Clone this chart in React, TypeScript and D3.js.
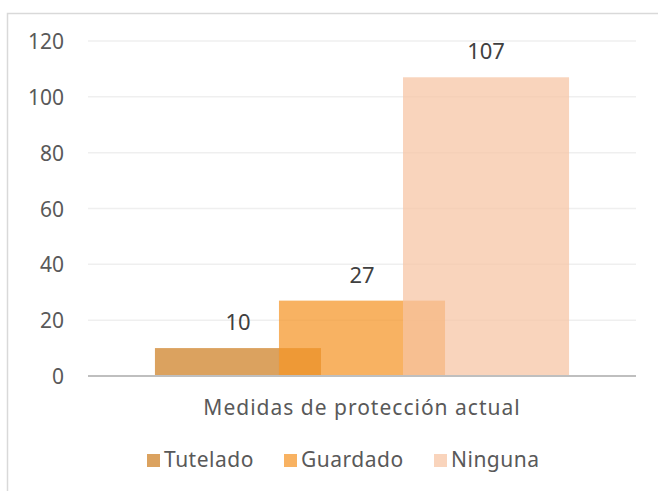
import * as d3 from "d3";

const categories = ["Medidas de protección actual"];
const seriesNames = ["Tutelado", "Guardado", "Ninguna"];
const seriesValues = [10, 27, 107];
const seriesColors = ["#ce8023", "#f59628", "#f7c4a3"];
const yTicks = [0, 20, 40, 60, 80, 100, 120];

const W = 658;
const H = 491;
const FONT = "'Noto Sans', sans-serif";

export default function App() {
  const plotLeft = 88;
  const plotRight = 636;
  const plotTop = 41;
  const plotBottom = 376;

  const x = d3.scaleBand().domain(categories).range([plotLeft, plotRight]);
  const y = d3.scaleLinear().domain([0, 120]).range([plotBottom, plotTop]);

  // overlapping bars: each series shifted by ~75% of the bar width
  const barW = x.bandwidth() * 0.303;
  const step = barW * 0.747;
  const groupW = barW + step * (seriesNames.length - 1);
  const sx = d3
    .scaleLinear()
    .domain([0, seriesNames.length - 1])
    .range([0, step * (seriesNames.length - 1)]);
  const catX = x(categories[0])! + (x.bandwidth() - groupW) / 2;

  const legendX = [147, 284, 434];

  return (
    <svg
      width={W}
      height={H}
      style={{ position: "absolute", left: 0, top: 0 }}
      fontFamily={FONT}
    >
      <rect x={0} y={0} width={W} height={H} fill="#fff" />
      <rect
        x={7.5}
        y={13.5}
        width={W + 20}
        height={H + 20}
        fill="none"
        stroke="#d9d9d9"
        strokeWidth={1.5}
      />
      {yTicks.map((t) => (
        <g key={t}>
          {t > 0 && (
            <line
              x1={plotLeft}
              x2={plotRight}
              y1={y(t)}
              y2={y(t)}
              stroke="#efefef"
              strokeWidth={1.5}
            />
          )}
          <text
            x={64}
            y={y(t) + 8}
            textAnchor="end"
            fontSize={21}
            fill="#595959"
          >
            {t}
          </text>
        </g>
      ))}
      {seriesValues.map((v, i) => (
        <rect
          key={seriesNames[i]}
          x={catX + sx(i)}
          y={y(v)}
          width={barW}
          height={y(0) - y(v)}
          fill={seriesColors[i]}
          fillOpacity={0.73}
        />
      ))}
      {seriesValues.map((v, i) => (
        <text
          key={"l" + i}
          x={catX + sx(i) + barW / 2}
          y={y(v) - 18}
          textAnchor="middle"
          fontSize={22}
          fill="#404040"
        >
          {v}
        </text>
      ))}
      <line
        x1={plotLeft}
        x2={plotRight}
        y1={plotBottom}
        y2={plotBottom}
        stroke="#bfbfbf"
        strokeWidth={2}
      />
      <text
        x={x(categories[0])! + x.bandwidth() / 2}
        y={415}
        textAnchor="middle"
        fontSize={21}
        letterSpacing={1}
        fill="#595959"
      >
        {categories[0]}
      </text>
      {seriesNames.map((s, i) => (
        <g key={"lg" + s} transform={`translate(${legendX[i]},461)`}>
          <rect
            x={0}
            y={-7}
            width={13}
            height={13}
            fill={seriesColors[i]}
            fillOpacity={0.73}
          />
          <text x={17} y={6} fontSize={21} letterSpacing={0.5} fill="#595959">
            {s}
          </text>
        </g>
      ))}
    </svg>
  );
}
